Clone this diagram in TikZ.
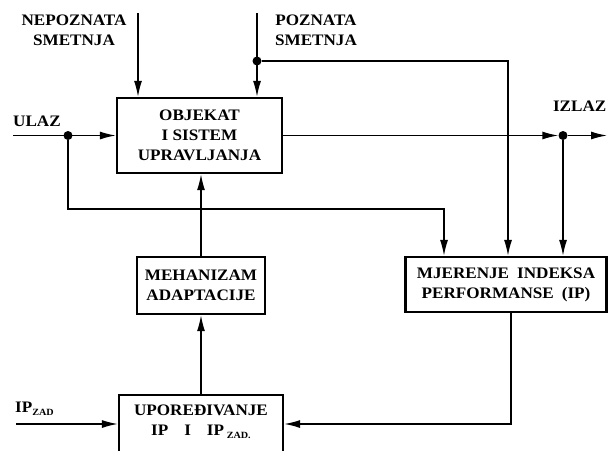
\documentclass[tikz,border=0pt]{standalone}
\usepackage{fontspec}
\setmainfont[FakeStretch=1.07]{Liberation Serif}
\usetikzlibrary{arrows.meta}
\newcommand{\zsub}[1]{\raisebox{-3pt}{\fontsize{9.5}{9.5}\selectfont #1}}
\begin{document}
\begin{tikzpicture}[x=1pt,y=-1pt,
  every node/.style={font=\bfseries\fontsize{16}{20}\selectfont, inner sep=0pt, align=center},
  blk/.style={draw, line width=2.2pt, inner sep=0pt},
  ln/.style={line width=1.4pt},
  arr/.style={ln, -{Latex[length=16pt,width=8pt]}},
  dotc/.style={circle, fill, inner sep=0pt, minimum size=9pt}]
\useasboundingbox (0,0) rectangle (608,450);
\clip (0,0) rectangle (608,450);
% blocks
\node[blk, minimum width=165pt, minimum height=75pt] (obj) at (199.5,135.5) {OBJEKAT\\I SISTEM\\UPRAVLJANJA};
\node[blk, minimum width=128pt, minimum height=57pt] (meh) at (201,285.5) {MEHANIZAM\\ADAPTACIJE};
\node[blk, minimum width=201pt, minimum height=55pt] (mj) at (506,284.5) {MJERENJE\enspace INDEKSA\\PERFORMANSE\enspace (IP)};
\node[blk, minimum width=164pt, minimum height=80pt] (up) at (201,435) {};
\node (uptxt) at (201,421.5) {UPOREĐIVANJE\\IP\quad I\quad IP\,\zsub{ZAD.}};
% labels
\node (nepl) at (74,30) {NEPOZNATA\\SMETNJA};
\node (pozl) at (316,30) {POZNATA\\SMETNJA};
\node (ulazl) at (37,121) {ULAZ};
\node[anchor=east] (izlazl) at (606.5,106) {IZLAZ};
\node[anchor=west] (ipl) at (15,409) {IP\zsub{ZAD}};
% coordinates and dots
\coordinate (nepT) at (138,13);
\coordinate (pozT) at (257,13);
\node[dotc] (pozD) at (257,61) {};
\coordinate (c1) at (508,61);
\coordinate (ulT) at (13,135.5);
\node[dotc] (ulD) at (68,135.5) {};
\coordinate (c2) at (68,209);
\coordinate (c3) at (444,209);
\node[dotc] (izD) at (563,135.5) {};
\coordinate (izT) at (607,135.5);
\coordinate (ipT) at (16,424);
\coordinate (c4) at (511,424);
% connectors
\draw[arr] (nepT) -- (nepT |- obj.north);
\draw[arr] (pozT) -- (pozT |- obj.north);
\draw[arr] (pozD) -- (c1) -- (c1 |- mj.north);
\draw[arr] (ulT) -- (ulT -| obj.west);
\draw[arr] (ulD) -- (c2) -- (c3) -- (c3 |- mj.north);
\draw[arr] (obj.east) -- (izD.west);
\draw[arr] (izD) -- (izT);
\draw[arr] (izD) -- (izD |- mj.north);
\draw[arr] (meh.north) -- (meh.north |- obj.south);
\draw[arr] (up.north -| meh.south) -- (meh.south);
\draw[arr] (c4 |- mj.south) -- (c4) -- (c4 -| up.east);
\draw[arr] (ipT) -- (ipT -| up.west);
\end{tikzpicture}
\end{document}
